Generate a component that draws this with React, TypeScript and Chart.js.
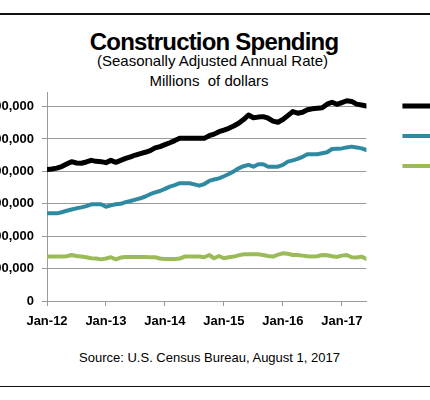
import React, { useEffect, useRef } from 'react';
import { Chart, registerables } from 'chart.js';

Chart.register(...registerables);

// ---- data (millions of dollars, SAAR), monthly Jan-2012 .. Jun-2017 ----
const seriesNames = ['Total', 'Private', 'Public'];

const xTickLabels = ['Jan-12', 'Jan-13', 'Jan-14', 'Jan-15', 'Jan-16', 'Jan-17'];

const yTickValues = [0, 200000, 400000, 600000, 800000, 1000000, 1200000];

const totalValues = [
  812000, 815000, 820000, 830000, 845000, 860000, 852000, 850000, 858000, 868000, 862000, 860000,
  854000, 868000, 856000, 868000, 880000, 890000, 901000, 910000, 918000, 928000, 945000, 953000,
  965000, 977000, 990000, 1004000, 1005000, 1004000, 1004000, 1004000, 1004000, 1020000, 1030000, 1045000,
  1055000, 1066000, 1080000, 1097000, 1120000, 1148000, 1131000, 1135000, 1138000, 1128000, 1110000, 1103000,
  1120000, 1144000, 1169000, 1159000, 1165000, 1180000, 1186000, 1190000, 1193000, 1215000, 1227000, 1214000,
  1225000, 1236000, 1232000, 1215000, 1210000, 1204000,
];

const privateValues = [
  541000, 541000, 541000, 548000, 557000, 565000, 572000, 578000, 586000, 597000, 597000, 597000,
  582000, 590000, 597000, 600000, 610000, 617000, 626000, 634000, 645000, 659000, 670000, 679000,
  692000, 706000, 715000, 727000, 727000, 727000, 720000, 712000, 722000, 741000, 750000, 757000,
  770000, 784000, 800000, 819000, 832000, 840000, 829000, 844000, 844000, 829000, 829000, 829000,
  840000, 860000, 868000, 877000, 890000, 906000, 906000, 906000, 912000, 918000, 938000, 940000,
  942000, 948000, 953000, 948000, 942000, 932000,
];

const publicValues = [
  274000, 274000, 274000, 274000, 276000, 284000, 278000, 274000, 270000, 264000, 262000, 257000,
  262000, 270000, 257000, 268000, 272000, 272000, 272000, 272000, 272000, 270000, 270000, 262000,
  259000, 259000, 259000, 262000, 274000, 274000, 274000, 274000, 270000, 284000, 264000, 278000,
  264000, 270000, 274000, 282000, 288000, 288000, 288000, 288000, 284000, 278000, 274000, 286000,
  294000, 292000, 284000, 284000, 280000, 276000, 274000, 276000, 284000, 282000, 276000, 272000,
  280000, 284000, 270000, 268000, 274000, 260000,
];

const FONT = '"Liberation Sans", Arial, Helvetica, sans-serif';
const GRID = '#9a9a9a';

const toPoints = (arr: number[]) => arr.map((v, i) => ({ x: i, y: v }));

const legendShift = {
  id: 'legendShift',
  afterLayout(chart: any) {
    const l = chart.legend;
    if (!l) return;
    l.left += 20;
    l.right += 20;
    l.top -= 9;
    l.bottom -= 9;
  },
};

export default function App() {
  const ref = useRef<HTMLCanvasElement>(null);

  useEffect(() => {
    if (!ref.current) return;
    const chart = new Chart(ref.current, {
      type: 'line',
      data: {
        datasets: [
          {
            label: seriesNames[0],
            data: toPoints(totalValues),
            borderColor: '#000000',
            backgroundColor: '#000000',
            borderWidth: 5,
            pointRadius: 0,
            tension: 0,
            borderJoinStyle: 'round',
            borderCapStyle: 'round',
          },
          {
            label: seriesNames[1],
            data: toPoints(privateValues),
            borderColor: '#2e8aa0',
            backgroundColor: '#2e8aa0',
            borderWidth: 4,
            pointRadius: 0,
            tension: 0,
            borderJoinStyle: 'round',
            borderCapStyle: 'round',
          },
          {
            label: seriesNames[2],
            data: toPoints(publicValues),
            borderColor: '#9bbb59',
            backgroundColor: '#9bbb59',
            borderWidth: 4,
            pointRadius: 0,
            tension: 0,
            borderJoinStyle: 'round',
            borderCapStyle: 'round',
          },
        ],
      },
      options: {
        animation: false,
        responsive: false,
        layout: { padding: { top: 20, left: 0, right: 0, bottom: 0 } },
        plugins: {
          legend: {
            position: 'right',
            align: 'start',
            labels: {
              usePointStyle: true,
              pointStyle: 'line',
              pointStyleWidth: 35,
              padding: 16,
              color: '#000',
              font: { family: FONT, size: 14 },
            },
          },
          tooltip: { enabled: false },
          title: { display: false },
        },
        scales: {
          x: {
            type: 'linear',
            min: 0,
            max: totalValues.length - 1,
            afterFit: (s: any) => {
              s.height = 40;
            },
            grid: { drawOnChartArea: false, drawTicks: true, tickLength: 5, color: GRID },
            border: { color: GRID, width: 1 },
            ticks: {
              stepSize: 12,
              includeBounds: false,
              autoSkip: false,
              maxRotation: 0,
              padding: 8,
              color: '#000',
              font: { family: FONT, size: 13, weight: 'bold' },
              callback: (v: any) => xTickLabels[Math.round(Number(v) / 12)] ?? '',
            },
          },
          y: {
            min: 0,
            max: 1290000,
            afterBuildTicks: (s: any) => {
              s.ticks = yTickValues.map((v) => ({ value: v }));
            },
            afterFit: (s: any) => {
              s.width = 80;
            },
            grid: { color: GRID, tickLength: 5, drawTicks: true },
            border: { color: GRID, width: 1 },
            ticks: {
              padding: 8,
              color: '#000',
              font: { family: FONT, size: 13, weight: 'bold' },
              callback: (v: any) => Number(v).toLocaleString('en-US'),
            },
          },
        },
      },
      plugins: [legendShift],
    } as any);
    return () => chart.destroy();
  }, []);

  const text = (content: string, center: number, top: number, size: number, extra: any = {}) => (
    <div
      style={{
        position: 'absolute',
        left: center - 200,
        width: 400,
        top,
        textAlign: 'center',
        fontSize: size,
        lineHeight: `${size}px`,
        whiteSpace: 'pre',
        color: '#000',
        ...extra,
      }}
    >
      {content}
    </div>
  );

  return (
    <div
      style={{
        position: 'fixed',
        left: 0,
        top: 0,
        width: 430,
        height: 400,
        overflow: 'hidden',
        background: '#fff',
        fontFamily: FONT,
      }}
    >
      <div style={{ position: 'absolute', left: 0, top: 13, width: 430, height: 1.5, background: '#111' }} />
      {text('Construction Spending', 214, 29.6, 24, { fontWeight: 'bold', letterSpacing: '-0.8px' })}
      {text('(Seasonally Adjusted Annual Rate)', 212.5, 53, 15)}
      {text('Millions  of dollars', 209, 72.5, 15)}
      <canvas
        ref={ref}
        width={511}
        height={269}
        style={{ position: 'absolute', left: -33, top: 72, width: 511, height: 269 }}
      />
      {text('Source: U.S. Census Bureau, August 1, 2017', 209.5, 351, 13)}
      <div style={{ position: 'absolute', left: 0, top: 385.5, width: 430, height: 1.5, background: '#111' }} />
    </div>
  );
}
